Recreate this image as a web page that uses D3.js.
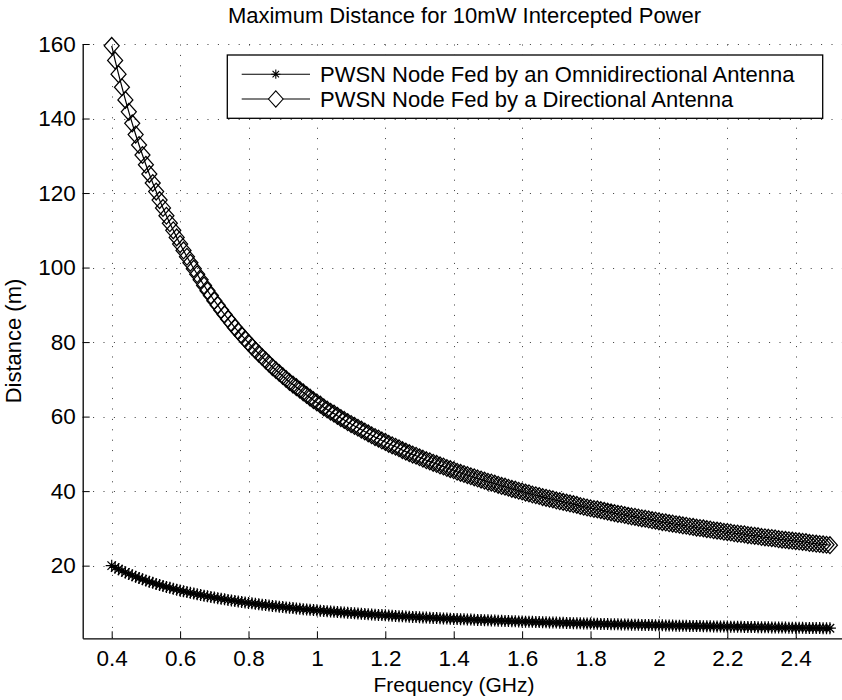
<!DOCTYPE html>
<html>
<head>
<meta charset="utf-8">
<script src="https://cdn.jsdelivr.net/npm/d3@7"></script>
<style>
  html, body { margin: 0; padding: 0; background: #fff; }
  svg { display: block; font-family: "Liberation Sans", Arial, Helvetica, sans-serif; }
</style>
</head>
<body>
<svg id="chart" width="842" height="700"></svg>
<script>
// Frequency sweep (GHz)
const freqGHz = [
  0.40,0.41,0.42,0.43,0.44,0.45,0.46,0.47,0.48,0.49,
  0.50,0.51,0.52,0.53,0.54,0.55,0.56,0.57,0.58,0.59,
  0.60,0.61,0.62,0.63,0.64,0.65,0.66,0.67,0.68,0.69,
  0.70,0.71,0.72,0.73,0.74,0.75,0.76,0.77,0.78,0.79,
  0.80,0.81,0.82,0.83,0.84,0.85,0.86,0.87,0.88,0.89,
  0.90,0.91,0.92,0.93,0.94,0.95,0.96,0.97,0.98,0.99,
  1.00,1.01,1.02,1.03,1.04,1.05,1.06,1.07,1.08,1.09,
  1.10,1.11,1.12,1.13,1.14,1.15,1.16,1.17,1.18,1.19,
  1.20,1.21,1.22,1.23,1.24,1.25,1.26,1.27,1.28,1.29,
  1.30,1.31,1.32,1.33,1.34,1.35,1.36,1.37,1.38,1.39,
  1.40,1.41,1.42,1.43,1.44,1.45,1.46,1.47,1.48,1.49,
  1.50,1.51,1.52,1.53,1.54,1.55,1.56,1.57,1.58,1.59,
  1.60,1.61,1.62,1.63,1.64,1.65,1.66,1.67,1.68,1.69,
  1.70,1.71,1.72,1.73,1.74,1.75,1.76,1.77,1.78,1.79,
  1.80,1.81,1.82,1.83,1.84,1.85,1.86,1.87,1.88,1.89,
  1.90,1.91,1.92,1.93,1.94,1.95,1.96,1.97,1.98,1.99,
  2.00,2.01,2.02,2.03,2.04,2.05,2.06,2.07,2.08,2.09,
  2.10,2.11,2.12,2.13,2.14,2.15,2.16,2.17,2.18,2.19,
  2.20,2.21,2.22,2.23,2.24,2.25,2.26,2.27,2.28,2.29,
  2.30,2.31,2.32,2.33,2.34,2.35,2.36,2.37,2.38,2.39,
  2.40,2.41,2.42,2.43,2.44,2.45,2.46,2.47,2.48,2.49,
  2.50
];

// Maximum distance (m), node fed by an omnidirectional antenna
const distOmni = [
  20.00,19.51,19.05,18.60,18.18,17.78,17.39,17.02,16.67,16.33,
  16.00,15.69,15.38,15.09,14.81,14.55,14.29,14.04,13.79,13.56,
  13.33,13.11,12.90,12.70,12.50,12.31,12.12,11.94,11.76,11.59,
  11.43,11.27,11.11,10.96,10.81,10.67,10.53,10.39,10.26,10.13,
  10.00,9.88,9.76,9.64,9.52,9.41,9.30,9.20,9.09,8.99,
  8.89,8.79,8.70,8.60,8.51,8.42,8.33,8.25,8.16,8.08,
  8.00,7.92,7.84,7.77,7.69,7.62,7.55,7.48,7.41,7.34,
  7.27,7.21,7.14,7.08,7.02,6.96,6.90,6.84,6.78,6.72,
  6.67,6.61,6.56,6.50,6.45,6.40,6.35,6.30,6.25,6.20,
  6.15,6.11,6.06,6.02,5.97,5.93,5.88,5.84,5.80,5.76,
  5.71,5.67,5.63,5.59,5.56,5.52,5.48,5.44,5.41,5.37,
  5.33,5.30,5.26,5.23,5.19,5.16,5.13,5.10,5.06,5.03,
  5.00,4.97,4.94,4.91,4.88,4.85,4.82,4.79,4.76,4.73,
  4.71,4.68,4.65,4.62,4.60,4.57,4.55,4.52,4.49,4.47,
  4.44,4.42,4.40,4.37,4.35,4.32,4.30,4.28,4.26,4.23,
  4.21,4.19,4.17,4.15,4.12,4.10,4.08,4.06,4.04,4.02,
  4.00,3.98,3.96,3.94,3.92,3.90,3.88,3.86,3.85,3.83,
  3.81,3.79,3.77,3.76,3.74,3.72,3.70,3.69,3.67,3.65,
  3.64,3.62,3.60,3.59,3.57,3.56,3.54,3.52,3.51,3.49,
  3.48,3.46,3.45,3.43,3.42,3.40,3.39,3.38,3.36,3.35,
  3.33,3.32,3.31,3.29,3.28,3.27,3.25,3.24,3.23,3.21,
  3.20
];

// Maximum distance (m), node fed by a directional antenna
const distDirectional = [
  159.5,155.6,151.9,148.4,145.0,141.8,138.7,135.7,132.9,130.2,
  127.6,125.1,122.7,120.4,118.1,116.0,113.9,111.9,110.0,108.1,
  106.3,104.6,102.9,101.3,99.7,98.2,96.7,95.2,93.8,92.5,
  91.1,89.9,88.6,87.4,86.2,85.1,83.9,82.9,81.8,80.8,
  79.8,78.8,77.8,76.9,76.0,75.1,74.2,73.3,72.5,71.7,
  70.9,70.1,69.3,68.6,67.9,67.2,66.5,65.8,65.1,64.4,
  63.8,63.2,62.5,61.9,61.3,60.8,60.2,59.6,59.1,58.5,
  58.0,57.5,57.0,56.5,56.0,55.5,55.0,54.5,54.1,53.6,
  53.2,52.7,52.3,51.9,51.5,51.0,50.6,50.2,49.8,49.5,
  49.1,48.7,48.3,48.0,47.6,47.3,46.9,46.6,46.2,45.9,
  45.6,45.2,44.9,44.6,44.3,44.0,43.7,43.4,43.1,42.8,
  42.5,42.3,42.0,41.7,41.4,41.2,40.9,40.6,40.4,40.1,
  39.9,39.6,39.4,39.1,38.9,38.7,38.4,38.2,38.0,37.8,
  37.5,37.3,37.1,36.9,36.7,36.5,36.3,36.0,35.8,35.6,
  35.4,35.2,35.1,34.9,34.7,34.5,34.3,34.1,33.9,33.8,
  33.6,33.4,33.2,33.1,32.9,32.7,32.6,32.4,32.2,32.1,
  31.9,31.7,31.6,31.4,31.3,31.1,31.0,30.8,30.7,30.5,
  30.4,30.2,30.1,30.0,29.8,29.7,29.5,29.4,29.3,29.1,
  29.0,28.9,28.7,28.6,28.5,28.4,28.2,28.1,28.0,27.9,
  27.7,27.6,27.5,27.4,27.3,27.1,27.0,26.9,26.8,26.7,
  26.6,26.5,26.4,26.3,26.1,26.0,25.9,25.8,25.7,25.6,
  25.5
];

const xTickValues = [0.4, 0.6, 0.8, 1.0, 1.2, 1.4, 1.6, 1.8, 2.0, 2.2, 2.4];
const yTickValues = [20, 40, 60, 80, 100, 120, 140, 160];
const seriesNames = [
  "PWSN Node Fed by an Omnidirectional Antenna",
  "PWSN Node Fed by a Directional Antenna"
];
const titleText = "Maximum Distance for 10mW Intercepted Power";
const xLabelText = "Frequency (GHz)";
const yLabelText = "Distance (m)";

// ---- layout ----
const plot = { left: 82.7, right: 846, top: 44, bottom: 638.3 };
const svg = d3.select("#chart");

const x = d3.scaleLinear().domain([0.3152, 2.547]).range([plot.left, plot.right]);
const y = d3.scaleLinear().domain([0.5, 160]).range([plot.bottom, plot.top]);

// dotted grid
const grid = svg.append("g").attr("stroke", "#3a3a3a").attr("stroke-width", 1)
  .attr("stroke-dasharray", "1,9.4").attr("fill", "none");
grid.selectAll("line.gx").data(xTickValues).join("line")
  .attr("class", "gx")
  .attr("x1", d => Math.round(x(d)) + 0.5).attr("x2", d => Math.round(x(d)) + 0.5)
  .attr("y1", plot.bottom).attr("y2", plot.top);
grid.selectAll("line.gy").data(yTickValues).join("line")
  .attr("class", "gy")
  .attr("x1", plot.left).attr("x2", plot.right)
  .attr("y1", d => Math.round(y(d)) + 0.5).attr("y2", d => Math.round(y(d)) + 0.5);

// axes with inward ticks
const xAxis = d3.axisBottom(x).tickValues(xTickValues)
  .tickFormat(d3.format("~g")).tickSizeInner(-7).tickSizeOuter(0).tickPadding(12);
const yAxis = d3.axisLeft(y).tickValues(yTickValues)
  .tickFormat(d3.format("d")).tickSizeInner(-7).tickSizeOuter(0).tickPadding(7);

const gx = svg.append("g").attr("transform", `translate(0,${plot.bottom})`).call(xAxis);
const gy = svg.append("g").attr("transform", `translate(${plot.left},0)`).call(yAxis);
[gx, gy].forEach(g => {
  g.select(".domain").attr("stroke", "#000").attr("stroke-width", 1.3);
  g.selectAll(".tick line").attr("stroke", "#000");
  g.selectAll(".tick text").attr("fill", "#000").attr("font-size", 22.5)
    .attr("font-family", "'Liberation Sans', Arial, sans-serif");
});
gx.selectAll(".tick text").attr("dy", "0.71em");

// series geometry
const omniPts = freqGHz.map((f, i) => [f, distOmni[i]]);
const dirPts = freqGHz.map((f, i) => [f, distDirectional[i]]);
const line = d3.line().x(d => x(d[0])).y(d => y(d[1]));

const diamondPath = (w, h) => `M0,${-h}L${w},0L0,${h}L${-w},0Z`;
const starPath = r => {
  const s = r * 0.7071;
  return `M0,${-r}V${r}M${-r},0H${r}M${-s},${-s}L${s},${s}M${-s},${s}L${s},${-s}`;
};

const dataG = svg.append("g").attr("fill", "none").attr("stroke", "#000");

// directional antenna curve with diamond markers
dataG.append("path").attr("d", line(dirPts)).attr("stroke-width", 1.2);
dataG.append("g").attr("stroke-width", 1.25).selectAll("path").data(dirPts).join("path")
  .attr("transform", d => `translate(${x(d[0])},${y(d[1])})`)
  .attr("d", diamondPath(7.5, 8.4));

// omnidirectional antenna curve with star markers
dataG.append("path").attr("d", line(omniPts)).attr("stroke-width", 1.2);
dataG.append("g").attr("stroke-width", 1.25).selectAll("path").data(omniPts).join("path")
  .attr("transform", d => `translate(${x(d[0])},${y(d[1])})`)
  .attr("d", starPath(6));

// legend
const legend = svg.append("g");
const lg = { x0: 227.3, x1: 822.7, y0: 55, y1: 118.3 };
legend.append("rect")
  .attr("x", lg.x0).attr("y", lg.y0)
  .attr("width", lg.x1 - lg.x0).attr("height", lg.y1 - lg.y0)
  .attr("fill", "#fff").attr("stroke", "#000").attr("stroke-width", 1.3);
const rowsY = [74.2, 99];
const markers = [starPath(4.6), diamondPath(7.3, 8.2)];
seriesNames.forEach((name, i) => {
  const row = legend.append("g");
  row.append("line").attr("x1", 241.7).attr("x2", 310).attr("y1", rowsY[i]).attr("y2", rowsY[i])
    .attr("stroke", "#000").attr("stroke-width", 1.1);
  row.append("path").attr("transform", `translate(275.8,${rowsY[i]})`)
    .attr("d", markers[i]).attr("fill", i === 1 ? "#fff" : "none").attr("stroke", "#000")
    .attr("stroke-width", 1.1);
  row.append("text").attr("x", 320).attr("y", rowsY[i]).attr("dy", "0.36em")
    .attr("font-size", 22).attr("fill", "#000").text(name);
});

// title and axis labels
svg.append("text").attr("x", 464.5).attr("y", 22.7).attr("text-anchor", "middle")
  .attr("font-size", 22).attr("fill", "#000").text(titleText);
svg.append("text").attr("x", 454).attr("y", 692).attr("text-anchor", "middle")
  .attr("font-size", 21).attr("fill", "#000").text(xLabelText);
svg.append("text").attr("transform", "translate(21,341) rotate(-90)")
  .attr("text-anchor", "middle").attr("font-size", 22).attr("fill", "#000").text(yLabelText);
</script>
</body>
</html>
